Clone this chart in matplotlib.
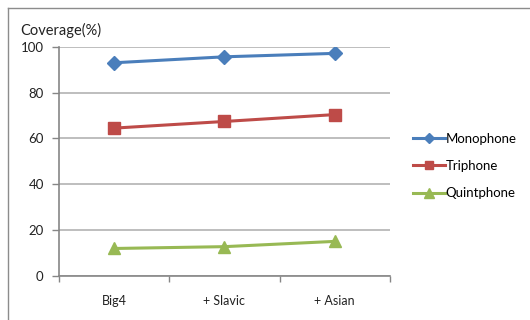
import matplotlib
matplotlib.use("Agg")
import matplotlib.pyplot as plt
from matplotlib.lines import Line2D

plt.rcParams['font.family'] = ['Lato', 'DejaVu Sans']

categories = ["Big4", "+ Slavic", "+ Asian"]
monophone = [93.0, 95.6, 97.1]
triphone = [64.5, 67.4, 70.4]
quintphone = [12.0, 12.8, 15.1]
yticks = [0, 20, 40, 60, 80, 100]

fig = plt.figure(figsize=(5.3, 3.2), dpi=100)
ax = fig.add_axes([0.1113, 0.1375, 0.6245, 0.7165])

x = list(range(len(categories)))
ax.plot(x, monophone, color="#4a7ebb", lw=2.2, marker="D", ms=7, label="Monophone")
ax.plot(x, triphone, color="#be4b48", lw=2.2, marker="s", ms=8, label="Triphone")
ax.plot(x, quintphone, color="#98b954", lw=2.2, marker="^", ms=8.5, label="Quintphone")

ax.set_xlim(-0.5, len(categories) - 0.5)
ax.set_ylim(0, 100)
ax.set_yticks(yticks)
ax.set_xticks(x)
ax.set_xticklabels(categories)
# category boundaries get the tick marks, labels sit in the middle
ax.set_xticks([i - 0.5 for i in range(len(categories) + 1)], minor=True)
ax.tick_params(axis="x", which="major", length=0, pad=14, labelsize=9, colors="#222222")
ax.tick_params(axis="x", which="minor", length=4, width=1, color="#868686")
ax.tick_params(axis="y", length=5, width=1, color="#868686", labelsize=9.5, pad=6, labelcolor="#222222")
ax.grid(axis="y", color="#b3b3b3", lw=1.2)
ax.set_axisbelow(True)
for side in ["top", "right"]:
    ax.spines[side].set_visible(False)
for side in ["left", "bottom"]:
    ax.spines[side].set_color("#868686")
    ax.spines[side].set_linewidth(1.2)

fig.text(0.038, 0.905, "Coverage(%)", fontsize=10.5, color="#222222", va="center")

fig.legend(loc="center left", bbox_to_anchor=(0.77, 0.481), frameon=False, fontsize=9.5,
           handlelength=2.4, handletextpad=0.05, labelspacing=1.15, borderaxespad=0,
           markerscale=0.8)

# outer chart border (only left and top are visible in the crop)
fig.add_artist(Line2D([8 / 530, 8 / 530], [0, 1 - 8 / 320], color="#8c8c8c", lw=1))
fig.add_artist(Line2D([8 / 530, 1], [1 - 8 / 320, 1 - 8 / 320], color="#8c8c8c", lw=1))

fig.savefig("out.png", dpi=100)
